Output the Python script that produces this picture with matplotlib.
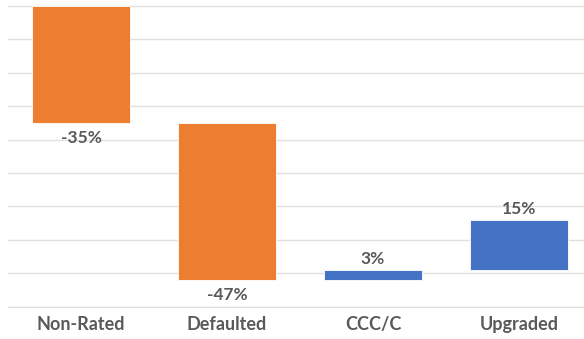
import numpy as np
import matplotlib.pyplot as plt

plt.rcParams['font.family'] = ['Lato', 'DejaVu Sans']

categories = ['Non-Rated', 'Defaulted', 'CCC/C', 'Upgraded']
changes = [-35, -47, 3, 15]
start_level = 90

# waterfall: each bar starts where the previous one ended
bottoms = []
level = start_level
for c in changes:
    bottoms.append(level)
    level += c
bottoms = np.array(bottoms)
changes = np.array(changes)
colors = ['#ED7D31' if c < 0 else '#4472C4' for c in changes]

fig = plt.figure(figsize=(5.84, 3.39), dpi=100)
ax = fig.add_axes([8 / 584, (339 - 306.7) / 339, 1 - 8 / 584, 306.7 / 339])

x = np.arange(len(categories))
ax.bar(x, changes, bottom=bottoms, width=0.665, color=colors,
       edgecolor='white', linewidth=0.6, zorder=3)

for xi, b, c in zip(x, bottoms, changes):
    end = b + c
    if c < 0:
        ax.annotate(f'{c}%', (xi, end), xytext=(0, -10.8), textcoords='offset points',
                    ha='center', va='center', fontsize=12.5, fontweight='bold', color='#595959')
    else:
        ax.annotate(f'{c}%', (xi, end), xytext=(0, 8), textcoords='offset points',
                    ha='center', va='center', fontsize=12.5, fontweight='bold', color='#595959')

ax.set_ylim(0, 91.8)
ax.set_xlim(-0.5, (584 - 8) / 146 - 0.5)
ax.set_yticks(np.arange(0, 91, 10))
ax.yaxis.grid(True, color='#e0e0e0', linewidth=1, zorder=0)
ax.set_axisbelow(True)
ax.tick_params(axis='y', left=False, labelleft=False)
ax.tick_params(axis='x', length=0, pad=7)
ax.set_xticks(x)
ax.set_xticklabels(categories, fontsize=13, fontweight='bold', color='#595959')
for s in ['top', 'right', 'left']:
    ax.spines[s].set_visible(False)
ax.spines['bottom'].set_color('#e0e0e0')

fig.savefig('out.png', dpi=100)
